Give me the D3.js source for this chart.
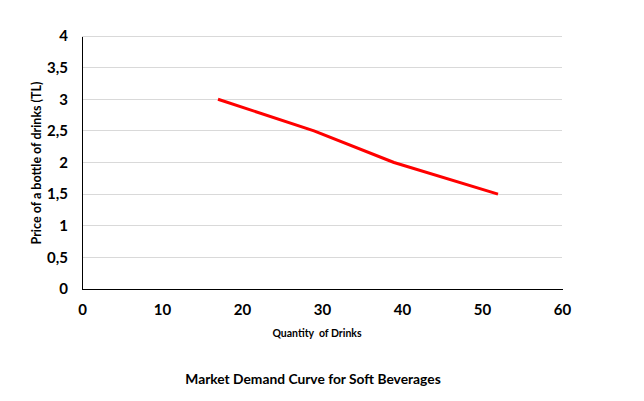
<!DOCTYPE html>
<html><head><meta charset="utf-8">
<script src="https://cdn.jsdelivr.net/npm/d3@7"></script>
<style>body{margin:0;background:#fff}svg{display:block;font-family:Lato,sans-serif}</style>
</head><body><svg id="c" width="644" height="401"></svg>
<script>
const quantity = [17, 29, 39, 52];
const price = [3, 2.5, 2, 1.5];
const xTicks = [0, 10, 20, 30, 40, 50, 60];
const yTicks = [0, 0.5, 1, 1.5, 2, 2.5, 3, 3.5, 4];
const xTitle = "Quantity  of Drinks";
const yTitle = "Price of a bottle of drinks (TL)";
const chartTitle = "Market Demand Curve for Soft Beverages";

const svg = d3.select("#c");
const x = d3.scaleLinear().domain([0, 60]).range([82, 562]);
const y = d3.scaleLinear().domain([0, 4]).range([289, 36]);
const fmt = d => String(d).replace(".", ",");

svg.append("g").selectAll("line").data(yTicks.filter(d => d > 0)).join("line")
  .attr("x1", x(0)).attr("x2", x(60)).attr("y1", d => y(d)).attr("y2", d => y(d))
  .attr("stroke", "#d9d9d9").attr("stroke-width", 1).attr("shape-rendering", "crispEdges");

const yAxis = svg.append("g").attr("transform", `translate(${x(0)},0)`)
  .call(d3.axisLeft(y).tickValues(yTicks).tickFormat(fmt).tickSize(0).tickPadding(14));
const xAxis = svg.append("g").attr("transform", `translate(0,${y(0)})`)
  .call(d3.axisBottom(x).tickValues(xTicks).tickSize(0).tickPadding(15));
[yAxis, xAxis].forEach(g => {
  g.select(".domain").attr("stroke", "#000").attr("stroke-width", 1).attr("shape-rendering", "crispEdges");
  g.selectAll("text").attr("font-size", 15).attr("font-weight", "bold").attr("fill", "#000")
    .attr("font-family", "Lato,sans-serif");
});

const pts = quantity.map((q, i) => [q, price[i]]);
svg.append("path").datum(pts)
  .attr("d", d3.line().x(d => x(d[0])).y(d => y(d[1])))
  .attr("fill", "none").attr("stroke", "#ff0000").attr("stroke-width", 3)
  .attr("stroke-linejoin", "round");

svg.append("text").attr("x", 317).attr("y", 337).attr("text-anchor", "middle")
  .style("white-space", "pre")
  .attr("font-size", 10.5).attr("font-weight", "bold").text(xTitle);
svg.append("text").attr("transform", "translate(41,163) rotate(-90)").attr("text-anchor", "middle")
  .attr("font-size", 12.5).attr("font-weight", "bold").text(yTitle);
svg.append("text").attr("x", 313).attr("y", 384).attr("text-anchor", "middle")
  .attr("font-size", 13.8).attr("font-weight", "bold").text(chartTitle);
</script></body></html>
